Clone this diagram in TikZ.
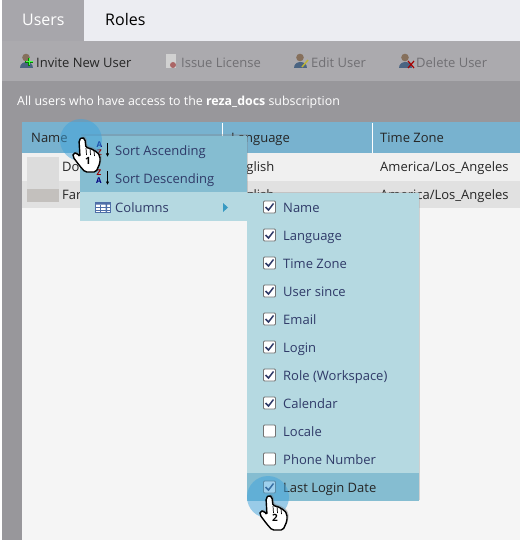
\documentclass[tikz,border=0pt]{standalone}
\usepackage{fontspec}
\setmainfont{Open Sans}
\usetikzlibrary{shapes, arrows.meta, positioning}
\usetikzlibrary{shadows}
\definecolor{tabcolor}{HTML}{A7A6AB}
\definecolor{barcolor}{HTML}{ECEDF2}
\definecolor{toolcolor}{HTML}{ABAAAE}
\definecolor{bandcolor}{HTML}{98979B}
\definecolor{headcolor}{HTML}{78B2CF}
\definecolor{rowacolor}{HTML}{F0F0F0}
\definecolor{rowbcolor}{HTML}{E1E1E1}
\definecolor{pagecolor}{HTML}{F5F5F5}
\definecolor{menucolor}{HTML}{B5D9E1}
\definecolor{hovercolor}{HTML}{85BDD1}
\definecolor{menutext}{HTML}{2F3A68}
\definecolor{spotcolor}{HTML}{3FA3DC}
\definecolor{greytext}{HTML}{706F73}
\definecolor{headbrown}{HTML}{86705C}
\definecolor{bodyblue}{HTML}{4A6482}
\definecolor{avatartop}{HTML}{DCDCDC}
\definecolor{avatarbot}{HTML}{C3C0BD}
\definecolor{gridcolor}{HTML}{4F6FA8}
\newcommand{\txt}[1]{\fontsize{#1}{#1}\selectfont}
\tikzset{label/.style={inner sep=0pt, anchor=west, text height=12, text depth=1, font=\txt{13}}}
\tikzset{tool/.style={label, text=greytext}}
\tikzset{tablecell/.style={label, text=black!85}}
\tikzset{menuitem/.style={label, text=menutext}}
\tikzset{checkbox/.style={draw=black!55, fill=white, rounded corners=1, line width=0.8, minimum size=12, inner sep=0pt}}
\tikzset{spot/.style={fill=spotcolor, fill opacity=0.5, circle, minimum size=42, inner sep=0pt}}
\tikzset{menushadow/.style={drop shadow={shadow xshift=1, shadow yshift=-1.5, opacity=0.3}}}
\tikzset{sortletter/.style={inner sep=0pt, font=\txt{8}\bfseries}}
\tikzset{
	userpic/.pic={
		\fill[headbrown] (0,-9.5) circle (3.8);
		\fill[bodyblue] (-6.5,1) .. controls (-6.5,-7) and (6.5,-7) .. (6.5,1) -- cycle;
	},
	handpic/.pic={
		\draw[fill=white, line width=1.4, rounded corners=1.8, drop shadow={shadow xshift=1.5, shadow yshift=-1.5, opacity=0.45}]
			(-3,3) -- (0,0) -- (3,2) -- (4,11) -- (8,11) -- (11,13) -- (15,15) -- (18,19) -- (18,26) -- (14,35) -- (3,35) -- (-3,28) -- (-9,20) -- (-9,16) -- (-5,16) -- (-2,20) -- cycle;
		\draw[line width=0.7] (4,11) -- (4.5,18) (8,11) -- (8.5,18) (12,14) -- (12.5,19);
	}
}
\begin{document}
\begin{tikzpicture}[x=1pt, y=-1pt]
	\useasboundingbox (0,0) rectangle (520,540);
	
	%%% BACKGROUND %%%
	
	\fill[white] (0,0) rectangle (520,540);
	\fill[barcolor] (2,0) rectangle (520,41);
	\fill[tabcolor] (2,0) rectangle (84,41);
	\fill[toolcolor] (2,41) rectangle (520,81);
	\fill[bandcolor] (2,81) rectangle (520,540);
	
	% TABLE
	\fill[pagecolor] (22,122) rectangle (520,540);
	\fill[headcolor] (22,122) rectangle (520,153);
	\fill[rowacolor] (22,153) rectangle (520,181);
	\fill[rowbcolor] (22,181) rectangle (520,208);
	\draw[white, line width=0.8] (222.5,123) -- (222.5,153) (372.5,123) -- (372.5,153);
	\fill[avatartop] (27,157) rectangle (59,189);
	\fill[avatarbot] (27,189) rectangle (59,202);
	
	%%% NODES %%%
	
	% TABS
	\node[label, font=\txt{16}, text=white] at (22,20.5) (userstab) {Users};
	\node[label, font=\txt{16}, text=black] at (105,20.5) (rolestab) {Roles};
	
	% TOOLBAR
	\pic at (26,67) {userpic};
	\draw[green!50!black, line width=2.2] (25,62) -- (33,62) (29,58) -- (29,66);
	\draw[green!70!white, line width=1] (25.5,62) -- (32.5,62) (29,58.5) -- (29,65.5);
	\node[label, text=black!85] at (36,62) (invite) {Invite New User};
	\fill[black!18] (166,54) rectangle (176,68);
	\fill[red!45!black!60] (173,65) circle (3);
	\node[tool] at (181,62) (issue) {Issue License};
	\pic at (300,67) {userpic};
	\draw[yellow!70!black, line width=1.5] (302,67) -- (308,60);
	\node[tool] at (311,62) (edit) {Edit User};
	\pic at (405,67) {userpic};
	\draw[red!65!black, line width=1.2] (408,61) -- (414,68) (414,61) -- (408,68);
	\node[tool] at (416,62) (delete) {Delete User};
	\node[label, font=\txt{12.4}, text=white] at (17,100.5) (intro) {All users who have access to the \textbf{reza\_docs} subscription};
	
	% HEADER AND ROWS
	\node[tablecell] at (31,137) (namehead) {Name};
	\node[tablecell] at (231,137) (langhead) {Language};
	\node[tablecell] at (380,137) (zonehead) {Time Zone};
	\node[tablecell] at (62,166) (namea) {Do};
	\node[tablecell] at (62,194) (nameb) {Far};
	\node[tablecell] at (231,166) (langa) {English};
	\node[tablecell] at (231,194) (langb) {English};
	\node[tablecell] at (380,166) (zonea) {America/Los\_Angeles};
	\node[tablecell] at (380,194) (zoneb) {America/Los\_Angeles};
	
	% SORT MENU
	\fill[menucolor, menushadow] (80,136) rectangle (247,221);
	\fill[hovercolor] (80,136) rectangle (247,192);
	\node[sortletter, text=blue!50!black] at (99.5,145) (sortaa) {A};
	\node[sortletter, text=red!60!black] at (99.5,153) (sortaz) {Z};
	\node[sortletter, text=red!60!black] at (99,173) (sortdz) {Z};
	\node[sortletter, text=blue!50!black] at (99,181) (sortda) {A};
	\draw[-{Latex[length=3.5, width=3.5]}, line width=0.8] (107.5,143) -- (107.5,157);
	\draw[-{Latex[length=3.5, width=3.5]}, line width=0.8] (107.5,171) -- (107.5,185);
	\node[menuitem] at (115,150) (sortasc) {Sort Ascending};
	\node[menuitem] at (115,178) (sortdesc) {Sort Descending};
	\draw[gridcolor, fill=white, line width=0.6] (95.5,202) rectangle (110.5,212.5);
	\fill[gridcolor] (95.5,202) rectangle (110.5,204.5) (105.5,204.5) rectangle (107,212.5);
	\draw[gridcolor, line width=0.4] (100,204.5) -- (100,212.5) (95.5,207.5) -- (110.5,207.5) (95.5,210) -- (110.5,210);
	\node[menuitem] at (115,207) (columns) {Columns};
	\fill[gridcolor!70!cyan] (223,203) -- (228,207.5) -- (223,212) -- cycle;
	
	% COLUMNS MENU
	\fill[menucolor, menushadow] (247,193) rectangle (419,501);
	\fill[hovercolor] (247,473) rectangle (419,501);
	\foreach \y/\id/\name/\tick in {207/name/Name/1, 235/language/Language/1, 263/zone/Time Zone/1, 291/since/User since/1, 319/email/Email/1, 347/login/Login/1, 375/role/Role (Workspace)/1, 403/calendar/Calendar/1, 431/locale/Locale/0, 459/phone/Phone Number/0} {
		\node[checkbox] at (269.5,\y) (box\id) {};
		\ifnum\tick=1
			\draw[menutext, line width=1.5] (265.5,\y) -- (268.5,\y+3) -- (273.5,\y-3.5);
		\fi
		\node[menuitem] at (283,\y) (item\id) {\name};
	}
	\node[checkbox] at (269.5,487) (boxlast) {};
	\draw[menutext, line width=1.5] (265.5,487) -- (268.5,490) -- (273.5,483.5);
	\node[menuitem, text=black!85] at (283,487) (itemlast) {Last Login Date};
	
	% CLICK MARKERS
	\node[spot] at (81,140) (spotone) {};
	\node[spot] at (268,497) (spottwo) {};
	\pic at (82,137) {handpic};
	\pic at (269,495) {handpic};
	\node[inner sep=0pt, font=\txt{10}\bfseries] at (88,161) (stepone) {1};
	\node[inner sep=0pt, font=\txt{10}\bfseries] at (275,518) (steptwo) {2};
	
\end{tikzpicture}
\end{document}
